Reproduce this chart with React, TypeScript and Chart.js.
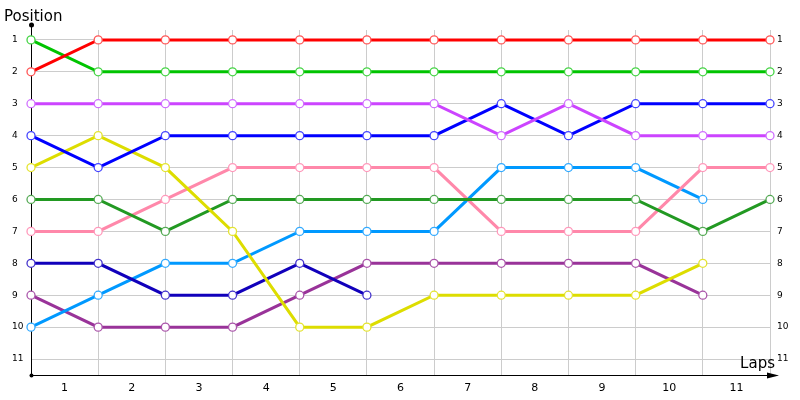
import { useEffect, useRef } from 'react';
import { Chart, registerables } from 'chart.js';

Chart.register(...registerables);

// lap labels sit between the grid lines, positions on both sides
const lapLabels = ['1', '2', '3', '4', '5', '6', '7', '8', '9', '10', '11'];
const positions = [1, 2, 3, 4, 5, 6, 7, 8, 9, 10, 11];

// position of each driver at every grid line (start + after each lap)
const red = [2, 1, 1, 1, 1, 1, 1, 1, 1, 1, 1, 1];
const green = [1, 2, 2, 2, 2, 2, 2, 2, 2, 2, 2, 2];
const violet = [3, 3, 3, 3, 3, 3, 3, 4, 3, 4, 4, 4];
const blue = [4, 5, 4, 4, 4, 4, 4, 3, 4, 3, 3, 3];
const yellow = [5, 4, 5, 7, 10, 10, 9, 9, 9, 9, 8];
const forest = [6, 6, 7, 6, 6, 6, 6, 6, 6, 6, 7, 6];
const pink = [7, 7, 6, 5, 5, 5, 5, 7, 7, 7, 5, 5];
const navy = [8, 8, 9, 9, 8, 9];
const sky = [10, 9, 8, 8, 7, 7, 7, 5, 5, 5, 6];
const plum = [9, 10, 10, 10, 9, 8, 8, 8, 8, 8, 9];

const series = [
  { name: 'Red', data: red, line: '#ff0000', point: '#ff5555' },
  { name: 'Green', data: green, line: '#00c400', point: '#44d444' },
  { name: 'Violet', data: violet, line: '#cc44ff', point: '#d070ff' },
  { name: 'Blue', data: blue, line: '#0000ff', point: '#4444ff' },
  { name: 'Yellow', data: yellow, line: '#dddd00', point: '#e4e430' },
  { name: 'Forest', data: forest, line: '#229922', point: '#55aa55' },
  { name: 'Pink', data: pink, line: '#ff88aa', point: '#ff99bb' },
  { name: 'Navy', data: navy, line: '#1100bb', point: '#4433cc' },
  { name: 'Sky', data: sky, line: '#0099ff', point: '#33aaff' },
  { name: 'Plum', data: plum, line: '#993399', point: '#aa55aa' },
];

const axisDecor = {
  id: 'axisDecor',
  afterDraw(chart: Chart) {
    const { ctx, chartArea } = chart;
    const { left, right, top, bottom } = chartArea;
    ctx.save();
    ctx.fillStyle = '#000';
    ctx.strokeStyle = '#000';
    ctx.lineWidth = 1;
    // left axis sticks out a little above the grid
    ctx.beginPath();
    ctx.moveTo(left + 0.5, top);
    ctx.lineTo(left + 0.5, top - 5);
    ctx.stroke();
    // bottom axis runs past the last grid line into an arrow
    ctx.beginPath();
    ctx.moveTo(left, bottom + 0.5);
    ctx.lineTo(right + 6, bottom + 0.5);
    ctx.stroke();
    ctx.beginPath();
    ctx.moveTo(right + 9, bottom + 0.5);
    ctx.lineTo(right - 3, bottom - 2.5);
    ctx.lineTo(right - 3, bottom + 3.5);
    ctx.closePath();
    ctx.fill();
    // dots at the ends of the left axis
    ctx.beginPath();
    ctx.arc(left + 0.5, top - 5, 2.5, 0, Math.PI * 2);
    ctx.fill();
    ctx.beginPath();
    ctx.arc(left + 0.5, bottom + 0.5, 2, 0, Math.PI * 2);
    ctx.fill();
    // axis titles
    ctx.font = '15px "DejaVu Sans"';
    ctx.textBaseline = 'alphabetic';
    ctx.textAlign = 'left';
    ctx.fillText('Position', 4, 21);
    ctx.textAlign = 'right';
    ctx.fillText('Laps', right + 5, 368);
    ctx.restore();
  },
};

export default function App() {
  const canvasRef = useRef<HTMLCanvasElement>(null);
  const chartRef = useRef<Chart | null>(null);

  useEffect(() => {
    if (!canvasRef.current) return;
    if (chartRef.current) chartRef.current.destroy();

    const yTicks = (axis: any) => {
      axis.ticks = positions.map((v) => ({ value: v }));
    };

    chartRef.current = new Chart(canvasRef.current, {
      type: 'line',
      data: {
        datasets: series.map((s) => ({
          label: s.name,
          data: s.data.map((v, i) => ({ x: i, y: v })),
          borderColor: s.line,
          backgroundColor: s.line,
          borderWidth: 3,
          pointRadius: 4,
          pointHoverRadius: 4,
          pointBorderWidth: 1.3,
          pointBackgroundColor: '#ffffff',
          pointBorderColor: s.point,
          tension: 0,
          clip: false as any,
        })),
      },
      options: {
        responsive: false,
        animation: false,
        layout: { padding: { left: 12, top: 30, right: 0, bottom: 0 } },
        plugins: {
          legend: { display: false },
          tooltip: { enabled: false },
        },
        scales: {
          x: {
            type: 'linear',
            min: 0,
            max: lapLabels.length,
            afterBuildTicks: (axis: any) => {
              const t = [];
              for (let i = 0; i <= lapLabels.length * 2; i++) t.push({ value: i / 2 });
              axis.ticks = t;
            },
            afterFit: (axis: any) => {
              axis.height = 25;
            },
            grid: {
              drawTicks: false,
              color: (c: any) => (c.tick && c.tick.value % 1 === 0 ? '#cccccc' : 'rgba(0,0,0,0)'),
            },
            border: { display: true, color: '#000' },
            ticks: {
              padding: 7,
              color: '#000',
              font: { family: 'DejaVu Sans', size: 11 },
              maxRotation: 0,
              autoSkip: false,
              callback: (v: any) => {
                const n = Number(v);
                return n % 1 === 0.5 ? lapLabels[n - 0.5] : '';
              },
            },
          },
          y: {
            type: 'linear',
            position: 'left',
            reverse: true,
            min: 0.69,
            max: 11.5,
            afterBuildTicks: yTicks,
            afterFit: (axis: any) => {
              axis.width = 19;
            },
            grid: { drawTicks: false, color: '#cccccc' },
            border: { display: true, color: '#000' },
            ticks: {
              crossAlign: 'far',
              color: '#000',
              font: { family: 'DejaVu Sans', size: 9 },
              callback: (v: any) => String(v),
            },
          },
          y2: {
            type: 'linear',
            position: 'right',
            reverse: true,
            min: 0.69,
            max: 11.5,
            afterBuildTicks: yTicks,
            afterFit: (axis: any) => {
              axis.width = 30;
            },
            grid: { display: false, drawTicks: false },
            border: { display: false },
            ticks: {
              padding: 7,
              color: '#000',
              font: { family: 'DejaVu Sans', size: 9 },
              callback: (v: any) => String(v),
            },
          },
        },
      },
      plugins: [axisDecor],
    });

    return () => {
      if (chartRef.current) {
        chartRef.current.destroy();
        chartRef.current = null;
      }
    };
  }, []);

  return (
    <div style={{ position: 'fixed', left: 0, top: 0, width: '800px', height: '400px', background: '#fff' }}>
      <canvas ref={canvasRef} width={800} height={400} style={{ width: '800px', height: '400px' }} />
    </div>
  );
}
